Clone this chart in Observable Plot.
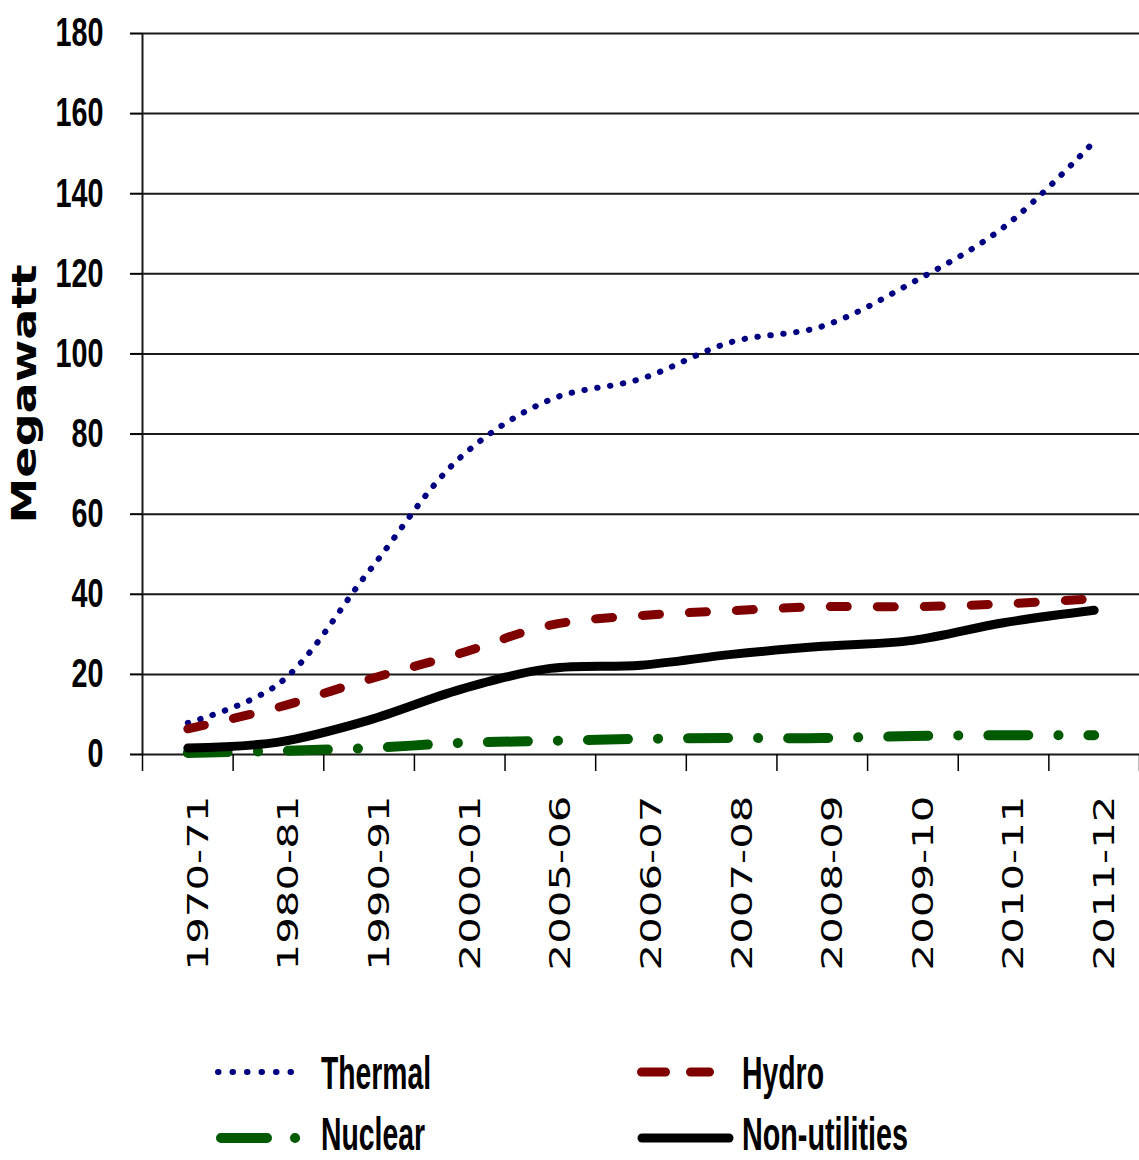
<!DOCTYPE html>
<html><head><meta charset="utf-8">
<script src="https://cdn.jsdelivr.net/npm/d3@7"></script>
<script src="https://cdn.jsdelivr.net/npm/@observablehq/plot@0.6"></script>
<style>
body{margin:0;background:#fff;}
#chart{width:1139px;}
#chart svg{display:block;}
</style>
</head><body><div id="chart"></div>
<script>
// ---- data ----
const categories = ["1970-71","1980-81","1990-91","2000-01","2005-06","2006-07","2007-08","2008-09","2009-10","2010-11","2011-12"];
const thermal   = [7.9, 17.6, 45.8, 74.0, 88.6, 93.8, 103.0, 106.9, 117.9, 131.6, 153.0];
const hydro     = [6.4, 11.8, 18.8, 25.2, 32.3, 34.7, 35.9, 36.9, 36.9, 37.6, 38.9];
const nuclear   = [0.4, 0.9, 1.6, 2.9, 3.4, 3.9, 4.1, 4.1, 4.6, 4.8, 4.8];
const nonUtil   = [1.6, 3.1, 8.6, 16.2, 21.5, 22.3, 25.0, 27.0, 28.5, 32.9, 36.0];
const yTicks    = [0, 20, 40, 60, 80, 100, 120, 140, 160, 180];
const yLabel    = "Megawatt";
const seriesNames = ["Thermal", "Hydro", "Nuclear", "Non-utilities"];

// ---- styles ----
const styles = {
  "Thermal":       {stroke: "#000080", strokeWidth: 6, strokeDasharray: "0.5 12.5", strokeLinecap: "round"},
  "Hydro":         {stroke: "#800000", strokeWidth: 9, strokeDasharray: "17 30", strokeLinecap: "round"},
  "Nuclear":       {stroke: "#005a00", strokeWidth: 10, strokeDasharray: "40 30 0.1 30", strokeLinecap: "round"},
  "Non-utilities": {stroke: "#000000", strokeWidth: 9, strokeLinecap: "round"}
};
const seriesValues = {"Thermal": thermal, "Hydro": hydro, "Nuclear": nuclear, "Non-utilities": nonUtil};

const idx = categories.map((_, i) => i);
const bounds = d3.range(-0.5, categories.length, 1);
const rows = vals => vals.map((v, i) => ({i, cat: categories[i], value: v}));
const narrow = "'Liberation Sans Narrow', 'Liberation Sans', Arial, sans-serif";

const lineMarks = seriesNames.map(name =>
  Plot.line(rows(seriesValues[name]), {x: "i", y: "value", curve: "catmull-rom", strokeLinejoin: "round", ...styles[name]})
);

const plot = Plot.plot({
  width: 1139, height: 1010,
  marginLeft: 142, marginRight: 0, marginTop: 33, marginBottom: 256,
  x: {type: "linear", domain: [-0.5, categories.length - 0.5], label: null},
  y: {domain: [0, 180], label: null},
  style: {background: "#fff", color: "#000", overflow: "visible"},
  marks: [
    Plot.gridY(yTicks, {stroke: "#1a1a1a", strokeOpacity: 1, strokeWidth: 2}),
    Plot.ruleX([-0.5], {y1: 0, y2: 180, stroke: "#1a1a1a", strokeWidth: 2}),
    Plot.axisY(yTicks, {label: null, tickSize: 12, tickPadding: 27, fontSize: 40, fontWeight: "bold", fontFamily: narrow, strokeWidth: 2}),
    Plot.axisX(bounds, {label: null, tickSize: 17, tickFormat: () => "", strokeWidth: 1.5}),
    Plot.axisX(idx, {label: null, tickSize: 0, tickPadding: 41, rotate: -90, tickFormat: i => categories[i], fontSize: 28, fontFamily: "'DejaVu Sans', Verdana, sans-serif"}),
    Plot.text([yLabel], {text: d => d, frameAnchor: "left", dx: -117, rotate: -90, fontSize: 34, fontWeight: "bold", fontFamily: "'DejaVu Sans', Verdana, sans-serif", fill: "#000"}),
    ...lineMarks
  ]
});

document.getElementById("chart").appendChild(plot);

// stretch texts to match the reference's proportions (anchor at start so stretching is predictable)
function stretch(el, len, anchor) {
  const x0 = +(el.getAttribute("x") || 0);
  let shift = 0;
  if (anchor === "end") shift = -len;
  else if (anchor === "middle") shift = -len / 2;
  el.setAttribute("text-anchor", "start");
  el.style.textAnchor = "start";
  el.setAttribute("x", x0 + shift);
  el.setAttribute("textLength", len);
  el.setAttribute("lengthAdjust", "spacingAndGlyphs");
}
const s = d3.select(plot);
s.selectAll('g[aria-label="y-axis tick label"] text').each(function() {
  const t = this.textContent;
  stretch(this, 16 * t.length, "end");
});
s.selectAll('g[aria-label="x-axis tick label"] text').each(function() {
  const t = this.textContent;
  if (t && t.trim().length) stretch(this, 175, "end");
});
s.selectAll('text').each(function() {
  if (this.textContent === yLabel) stretch(this, 259, "middle");
});

// ---- legend ----
const legendItems = [
  {name: "Thermal",       x1: 218, x2: 304, y: 62,  tx: 321, ty: 79,  tw: 110, sdash: "0.5 14"},
  {name: "Hydro",         x1: 641.5, x2: 709.5, y: 62, tx: 742, ty: 79, tw: 82, sdash: "24 25"},
  {name: "Nuclear",       x1: 221, x2: 295.1, y: 128, tx: 321, ty: 140, tw: 104, sdash: "46 28 0.1 100"},
  {name: "Non-utilities", x1: 642, x2: 729, y: 128, tx: 742, ty: 140, tw: 166, sdash: null}
];
const lg = d3.select("#chart").append("svg").attr("width", 1139).attr("height", 150).style("display", "block");
for (const it of legendItems) {
  const st = styles[it.name];
  lg.append("line").attr("x1", it.x1).attr("x2", it.x2).attr("y1", it.y).attr("y2", it.y)
    .attr("stroke", st.stroke).attr("stroke-width", st.strokeWidth)
    .attr("stroke-linecap", "round")
    .attr("stroke-dasharray", it.sdash);
  lg.append("text").attr("x", it.tx).attr("y", it.ty).text(it.name)
    .attr("font-family", narrow).attr("font-weight", "bold").attr("font-size", 46)
    .attr("textLength", it.tw).attr("lengthAdjust", "spacingAndGlyphs").attr("fill", "#000");
}
</script>
</body></html>
